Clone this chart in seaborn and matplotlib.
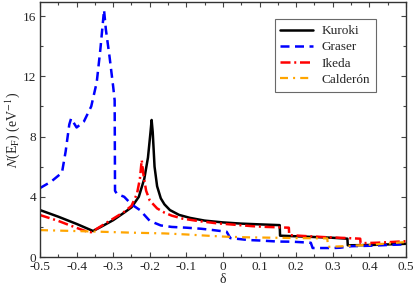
import numpy as np
import pandas as pd
import matplotlib
matplotlib.use("Agg")
import matplotlib.pyplot as plt
import matplotlib.ticker as mticker
import seaborn as sns

# ── Data ─────────────────────────────────────────────────────
kuroki_x = [-0.5, -0.45, -0.4, -0.355, -0.33, -0.3, -0.27, -0.25, -0.23, -0.215,
            -0.205, -0.198, -0.195, -0.192, -0.187, -0.18, -0.17, -0.16, -0.145,
            -0.12, -0.09, -0.05, 0.0, 0.05, 0.1, 0.155, 0.156, 0.2, 0.25, 0.3,
            0.34, 0.341, 0.4, 0.45, 0.5]
kuroki_y = [3.12, 2.68, 2.2, 1.73, 2.05, 2.45, 2.95, 3.3, 4.0, 5.2,
            6.6, 8.3, 9.1, 8.3, 6.0, 4.7, 3.9, 3.5, 3.12,
            2.8, 2.6, 2.42, 2.3, 2.22, 2.17, 2.12, 1.42, 1.38, 1.33, 1.28,
            1.22, 0.78, 0.8, 0.84, 0.88]

graser_x = [-0.5, -0.47, -0.44, -0.43, -0.42, -0.415, -0.40, -0.38, -0.36, -0.345,
            -0.335, -0.325, -0.32, -0.31, -0.30, -0.296, -0.295, -0.29, -0.27,
            -0.25, -0.227, -0.2, -0.17, -0.14, -0.1, -0.06, -0.03, 0.01, 0.02,
            0.07, 0.1, 0.15, 0.19, 0.24, 0.245, 0.3, 0.32, 0.35, 0.4, 0.45, 0.5]
graser_y = [4.58, 5.0, 5.6, 7.0, 8.8, 9.2, 8.6, 9.0, 10.0, 11.6,
            13.8, 16.4, 15.1, 13.3, 11.3, 10.4, 4.4, 4.2, 4.0,
            3.5, 3.12, 2.4, 2.1, 2.0, 1.95, 1.88, 1.8, 1.68, 1.26,
            1.13, 1.1, 1.03, 1.02, 0.95, 0.6, 0.6, 0.62, 0.72, 0.75, 0.8, 0.85]

ikeda_x = [-0.5, -0.45, -0.42, -0.39, -0.37, -0.36, -0.34, -0.32, -0.3, -0.27,
           -0.25, -0.235, -0.227, -0.222, -0.217, -0.21, -0.2, -0.18, -0.16,
           -0.14, -0.11, -0.07, -0.02, 0.03, 0.08, 0.12, 0.18, 0.181, 0.22,
           0.28, 0.33, 0.375, 0.376, 0.42, 0.46, 0.5]
ikeda_y = [2.79, 2.4, 2.12, 1.85, 1.68, 1.65, 1.95, 2.25, 2.55, 3.0,
           3.4, 4.2, 5.2, 6.44, 5.4, 4.4, 3.75, 3.23, 2.95,
           2.75, 2.55, 2.4, 2.25, 2.15, 2.05, 2.0, 1.95, 1.46, 1.4,
           1.32, 1.27, 1.22, 0.92, 0.95, 1.0, 1.05]

calderon_x = [-0.5, -0.36, -0.25, -0.16, -0.1, -0.03, 0.01, 0.07, 0.15, 0.2,
              0.285, 0.287, 0.33, 0.4, 0.45, 0.5]
calderon_y = [1.79, 1.7, 1.62, 1.57, 1.5, 1.4, 1.35, 1.31, 1.28, 1.26,
              1.24, 0.68, 0.72, 0.82, 0.9, 1.0]

series = [
    ("Kuroki",   kuroki_x,   kuroki_y,   "black",   None,                 1.8),
    ("Graser",   graser_x,   graser_y,   "#0000ff", (3.6, 2.2),           1.8),
    ("Ikeda",    ikeda_x,    ikeda_y,    "#ff0000", (4.0, 1.5, 0.8, 1.5), 1.8),
    ("Calderón", calderon_x, calderon_y, "#ffa500", (3.6, 2.3, 0.9, 2.3), 1.6),
]

# ── Style ────────────────────────────────────────────────────
sns.set_style("ticks")
plt.rcParams["font.family"] = ["Liberation Serif", "DejaVu Serif"]
plt.rcParams["mathtext.fontset"] = "stix"

fig = plt.figure(figsize=(4.15, 2.85), dpi=100)
ax = fig.add_axes([0.0964, 0.098, 0.8818, 0.895])

for name, xs, ys, col, dash, lw in series:
    df = pd.DataFrame({"x": xs, "y": ys})
    sns.lineplot(data=df, x="x", y="y", ax=ax, color=col, lw=lw,
                 estimator=None, sort=False, label=name)
    if dash is not None:
        ax.get_lines()[-1].set_dashes(dash)

ax.set_xlim(-0.5, 0.5)
ax.set_ylim(0, 16.93)
ax.xaxis.set_major_locator(mticker.MultipleLocator(0.1))
ax.xaxis.set_minor_locator(mticker.MultipleLocator(0.05))
ax.yaxis.set_major_locator(mticker.MultipleLocator(4))
ax.yaxis.set_minor_locator(mticker.MultipleLocator(2))
ax.xaxis.set_major_formatter(mticker.FuncFormatter(
    lambda v, _: "0" if abs(v) < 1e-9 else f"{v:.1f}"))

ax.tick_params(which="both", direction="in", top=True, right=True,
               labelsize=9.5, color="#444444", pad=2.5)
ax.tick_params(which="major", length=3.5, width=0.8)
ax.tick_params(which="minor", length=2.5, width=0.8)
for s in ax.spines.values():
    s.set_linewidth(1.0)
    s.set_color("#333333")

ax.set_xlabel("δ", fontsize=10, labelpad=0)
ax.set_ylabel(r"$\it{N}$(E$_\mathrm{F}$) (eV$^{-1}$)", fontsize=10, labelpad=1)

leg = ax.legend(loc="upper right", bbox_to_anchor=(0.918, 0.933), fontsize=9.5,
                borderaxespad=0, handlelength=2.5, frameon=True, fancybox=False,
                borderpad=0.45, labelspacing=0.3, handletextpad=0.6)
leg.get_frame().set_edgecolor("#444444")
leg.get_frame().set_linewidth(0.8)

fig.savefig("out.png", dpi=100)
